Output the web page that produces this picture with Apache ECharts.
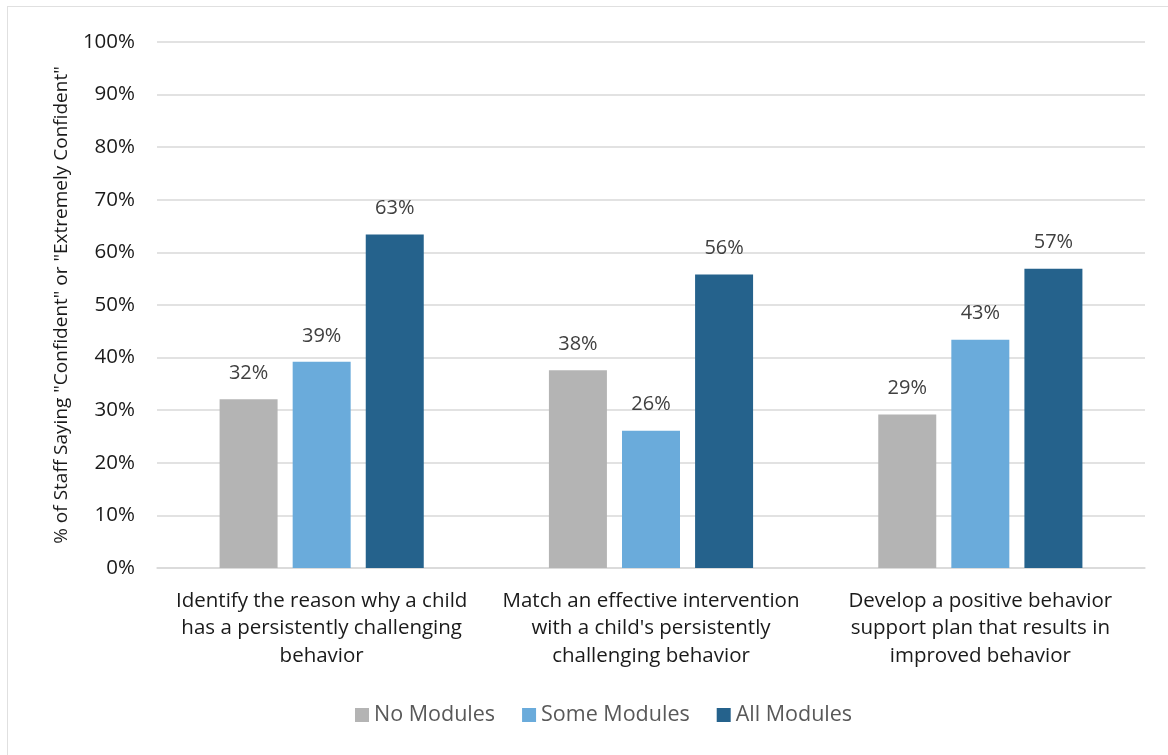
<!DOCTYPE html>
<html><head><meta charset="utf-8">
<script src="https://cdn.jsdelivr.net/npm/echarts@6/dist/echarts.min.js"></script>
<style>html,body{margin:0;padding:0;background:#fff}#c{width:1168px;height:755px;position:relative}
#frame{position:absolute;left:7px;top:6px;width:1180px;height:760px;border:1.5px solid #e0e0e0;box-sizing:border-box;pointer-events:none}</style>
</head><body><div id="c"></div><div id="frame"></div>
<script>
const categories = ["Identify the reason why a child\nhas a persistently challenging\nbehavior","Match an effective intervention\nwith a child's persistently\nchallenging behavior","Develop a positive behavior\nsupport plan that results in\nimproved behavior"];
const seriesNames = ["No Modules","Some Modules","All Modules"];
const noModules = [32.1, 37.6, 29.2];
const someModules = [39.2, 26.1, 43.4];
const allModules = [63.4, 55.8, 56.9];
const yAxisTitle = '% of Staff Saying "Confident" or "Extremely Confident"';
const colors = ["#B4B4B4","#6AABDB","#25628C"];
const font = "'Open Sans', sans-serif";
const chart = echarts.init(document.getElementById('c'));
const mk = (name, data, i) => ({
  name, type:'bar', data, barWidth:58, barGap:'26%',
  itemStyle:{color:colors[i]},
  label:{show:true, position:'top', distance:16, formatter:p=>Math.round(p.value)+'%', fontFamily:font, fontSize:20, color:'#404040'}
});
chart.setOption({
  animation:false,
  textStyle:{fontFamily:font},
  grid:{left:157, right:23, top:42, bottom:187},
  legend:{bottom:24, left:350, itemWidth:14, itemHeight:14, itemGap:27, icon:'rect',
    textStyle:{fontFamily:font, fontSize:21.5, color:'#595959'}, data:seriesNames},
  xAxis:{type:'category', data:categories,
    axisLine:{lineStyle:{color:'#d9d9d9', width:1.5}}, axisTick:{show:false},
    axisLabel:{fontFamily:font, fontSize:20.5, color:'#1a1a1a', lineHeight:27.5, margin:19, interval:0}},
  yAxis:{type:'value', min:0, max:100, interval:10,
    name:yAxisTitle, nameLocation:'middle', nameGap:86, nameRotate:90,
    nameTextStyle:{fontFamily:font, fontSize:19, color:'#1a1a1a'},
    axisLabel:{formatter:'{value}%', fontFamily:font, fontSize:20.5, color:'#1a1a1a', margin:22},
    splitLine:{lineStyle:{color:'#d9d9d9', width:1.5}}, axisLine:{show:false}, axisTick:{show:false}},
  series:[mk(seriesNames[0],noModules,0), mk(seriesNames[1],someModules,1), mk(seriesNames[2],allModules,2)]
});
</script></body></html>
